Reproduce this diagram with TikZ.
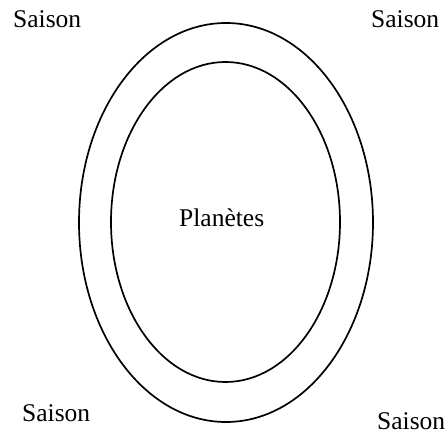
\documentclass[tikz,border=0pt]{standalone}
\usepackage{fontspec}
\setmainfont{Liberation Serif}
\usetikzlibrary{shapes.geometric}
\begin{document}
\begin{tikzpicture}[x=1pt,y=-1pt,
  ring/.style={ellipse, draw, line width=1.7pt, inner sep=0pt},
  lbl/.style={anchor=base west, inner sep=0pt, font=\fontsize{25.5}{30}\selectfont}]
\useasboundingbox (0,0) rectangle (445,434);
\node[ring, minimum width=294pt, minimum height=399pt] (outer) at (226,222.5) {};
\node[ring, minimum width=229pt, minimum height=320pt] (inner) at (225.5,222) {};
\node[lbl] (planetes) at (179,226) {Planètes};
\node[lbl] (s1) at (13,27) {Saison};
\node[lbl] (s2) at (371,27) {Saison};
\node[lbl] (s3) at (22,421) {Saison};
\node[lbl] (s4) at (377,429) {Saison};
\end{tikzpicture}
\end{document}
